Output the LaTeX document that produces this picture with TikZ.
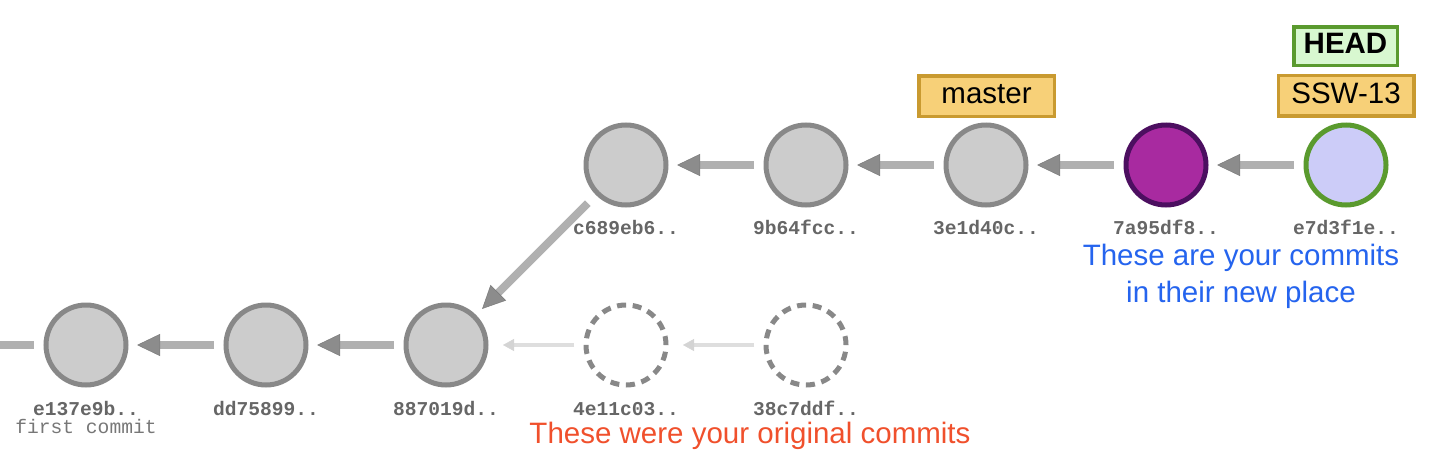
\documentclass[tikz,border=0pt]{standalone}
\usepackage{fontspec}
\setmainfont{Liberation Sans}
\newfontfamily\hashfont{Liberation Mono}
\usetikzlibrary{arrows.meta}
\definecolor{cfill}{HTML}{CCCCCC}
\definecolor{cstroke}{HTML}{888888}
\definecolor{shaftc}{HTML}{9C9C9C}
\definecolor{headc}{HTML}{6F6F6F}
\definecolor{ghostshaft}{HTML}{DEDEDE}
\definecolor{ghosthead}{HTML}{D4D4D4}
\definecolor{labelc}{HTML}{666666}
\definecolor{firstc}{HTML}{777777}
\definecolor{purplefill}{HTML}{A82AA0}
\definecolor{purplestroke}{HTML}{4C0F60}
\definecolor{headfill}{HTML}{CCCCF8}
\definecolor{greenstroke}{HTML}{5A9A2E}
\definecolor{greenfill}{HTML}{D8F8D0}
\definecolor{tagfill}{HTML}{F7D078}
\definecolor{tagstroke}{HTML}{C99A30}
\definecolor{bluetxt}{HTML}{2564EE}
\definecolor{redtxt}{HTML}{F0502C}
\begin{document}
\begin{tikzpicture}[x=1pt,y=-1pt,
  commit/.style={circle, minimum size=80pt, inner sep=0pt, line width=5pt, draw=cstroke, fill=cfill},
  ghost/.style={circle, minimum size=80pt, inner sep=0pt, line width=5pt, draw=cstroke, dash pattern=on 9pt off 6.7pt},
  parent/.style={line width=8pt, draw=shaftc, opacity=0.8,
    -{Triangle[length=23pt,width=22pt,color=headc,line width=0.5pt]},
    shorten >=8.5pt, shorten <=9.5pt},
  oldparent/.style={line width=4pt, draw=ghostshaft,
    -{Triangle[length=11pt,width=12pt,color=ghosthead,line width=0.5pt]},
    shorten >=14.5pt, shorten <=9.5pt},
  hash/.style={anchor=base, inner sep=0pt, text=labelc, font=\hashfont\bfseries\fontsize{19.6}{19.6}\selectfont},
  tagbox/.style={rectangle, inner sep=0pt, line width=3.5pt, draw=tagstroke, fill=tagfill,
    minimum width=135.5pt, minimum height=40.5pt, text height=21pt, text depth=6pt,
    font=\fontsize{29.5}{29.5}\selectfont},
  note/.style={anchor=base, inner sep=0pt, font=\fontsize{29.5}{29.5}\selectfont}
]
\useasboundingbox (0,0) rectangle (1432,458);

% top row
\node[commit] (c689) at (626,165) {};
\node[commit] (c9b6) at (806,165) {};
\node[commit] (c3e1) at (986,165) {};
\node[commit, fill=purplefill, draw=purplestroke] (c7a9) at (1166,165) {};
\node[commit, fill=headfill, draw=greenstroke] (ce7d) at (1346,165) {};
% bottom row
\node[commit] (ce13) at (86,345) {};
\node[commit] (cdd7) at (266,345) {};
\node[commit] (c887) at (446,345) {};
\node[ghost] (c4e1) at (626,345) {};
\node[ghost] (c38c) at (806,345) {};
\coordinate (offleft) at (0,345);

% connectors
\draw[parent] (ce7d) -- (c7a9);
\draw[parent] (c7a9) -- (c3e1);
\draw[parent] (c3e1) -- (c9b6);
\draw[parent] (c9b6) -- (c689);
\draw[parent, shorten <=11.5pt] (c689) -- (c887);
\draw[parent] (c887) -- (cdd7);
\draw[parent] (cdd7) -- (ce13);
\draw[line width=8pt, draw=shaftc, opacity=0.8, shorten <=10pt] (ce13) -- (offleft);
\draw[oldparent] (c38c) -- (c4e1);
\draw[oldparent] (c4e1) -- (c887);

% hash labels
\node[hash] (l689) at (626,234) {c689eb6..};
\node[hash] (l9b6) at (806,234) {9b64fcc..};
\node[hash] (l3e1) at (986,234) {3e1d40c..};
\node[hash] (l7a9) at (1166,234) {7a95df8..};
\node[hash] (le7d) at (1346,234) {e7d3f1e..};
\node[hash] (le13) at (86,415) {e137e9b..};
\node[hash] (ldd7) at (266,415) {dd75899..};
\node[hash] (l887) at (446,415) {887019d..};
\node[hash] (l4e1) at (626,415) {4e11c03..};
\node[hash] (l38c) at (806,415) {38c7ddf..};
\node[hash, text=firstc, font=\hashfont\fontsize{19.6}{19.6}\selectfont] (lfirst) at (86,433) {first commit};

% tags
\node[tagbox] (tmaster) at (986.5,96) {master};
\node[tagbox] (tssw) at (1346,95.5) {SSW-13};
\node[tagbox, draw=greenstroke, fill=greenfill, minimum width=103.5pt, minimum height=38.5pt,
  font=\bfseries\fontsize{29.5}{29.5}\selectfont] (thead) at (1345.5,46) {HEAD};

% notes
\node[note, text=bluetxt] (blue1) at (1241,265) {These are your commits};
\node[note, text=bluetxt] (blue2) at (1241,302) {in their new place};
\node[note, text=redtxt] (red1) at (750,443) {These were your original commits};
\end{tikzpicture}
\end{document}
